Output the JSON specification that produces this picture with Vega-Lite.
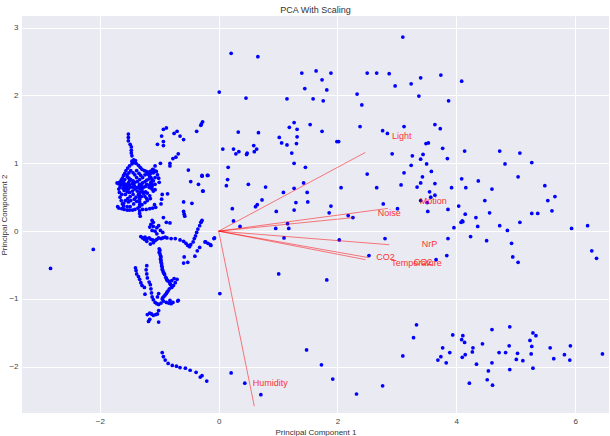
{
  "$schema": "https://vega.github.io/schema/vega-lite/v6.json",
  "width": 587,
  "height": 397,
  "autosize": {"type": "none"},
  "padding": {"left": 22, "top": 16, "right": 1, "bottom": 23},
  "background": "white",
  "title": {"text": "PCA With Scaling", "fontSize": 9, "fontWeight": "normal", "font": "Liberation Sans", "color": "#333333", "offset": 1},
  "config": {
    "view": {"fill": "#EAEAF2", "stroke": null},
    "axis": {
      "grid": true, "gridColor": "#ffffff", "gridWidth": 1, "domain": false, "ticks": false,
      "labelFont": "Liberation Sans", "labelFontSize": 8, "labelColor": "#444444", "labelPadding": 4,
      "titleFont": "Liberation Sans", "titleFontSize": 8, "titleFontWeight": "normal", "titleColor": "#333333"
    }
  },
  "datasets": {
    "scores": [
      {"x": -2.83, "y": -0.55}, {"x": -2.11, "y": -0.27},
      {"x": -1.52, "y": 1.43}, {"x": -1.52, "y": 1.38}, {"x": -1.52, "y": 1.33}, {"x": -1.49, "y": 1.28}, {"x": -1.47, "y": 1.24}, {"x": -1.47, "y": 1.19}, {"x": -1.47, "y": 1.15}, {"x": -1.46, "y": 1.11},
      {"x": -0.93, "y": 1.5}, {"x": -0.88, "y": 1.52}, {"x": -0.96, "y": 1.4}, {"x": -0.93, "y": 1.32}, {"x": -1.03, "y": 1.28}, {"x": -0.93, "y": 1.26},
      {"x": -0.75, "y": 1.44}, {"x": -0.7, "y": 1.47}, {"x": -0.65, "y": 1.4}, {"x": -0.59, "y": 1.35}, {"x": -0.37, "y": 1.47}, {"x": -0.3, "y": 1.56}, {"x": -0.27, "y": 1.61},
      {"x": -0.68, "y": 1.14}, {"x": -0.72, "y": 1.09}, {"x": -0.77, "y": 1.07}, {"x": -0.82, "y": 1.0}, {"x": -0.82, "y": 0.96}, {"x": -0.98, "y": 1.0}, {"x": -1.07, "y": 0.96},
      {"x": -1.11, "y": 0.91}, {"x": -1.05, "y": 0.88}, {"x": -1.03, "y": 0.83}, {"x": -1.01, "y": 0.78}, {"x": -1.0, "y": 0.72}, {"x": -1.07, "y": 0.69}, {"x": -1.12, "y": 0.66},
      {"x": -0.95, "y": 0.54}, {"x": -0.86, "y": 0.55}, {"x": -0.96, "y": 0.47}, {"x": -0.97, "y": 0.4},
      {"x": -0.51, "y": 0.9}, {"x": -0.47, "y": 0.73}, {"x": -0.34, "y": 0.69}, {"x": -0.28, "y": 0.82}, {"x": -0.19, "y": 0.82}, {"x": -0.26, "y": 0.59},
      {"x": -0.59, "y": 0.43}, {"x": -0.45, "y": 0.41}, {"x": -0.59, "y": 0.29}, {"x": -0.58, "y": 0.25}, {"x": -0.57, "y": 0.22},
      {"x": -1.46, "y": 1.03}, {"x": -1.43, "y": 1.05}, {"x": -1.4, "y": 1.04}, {"x": -1.42, "y": 1.01}, {"x": -1.46, "y": 0.99}, {"x": -1.5, "y": 0.96}, {"x": -1.53, "y": 0.93},
      {"x": -1.56, "y": 0.89}, {"x": -1.58, "y": 0.85}, {"x": -1.6, "y": 0.82}, {"x": -1.62, "y": 0.78}, {"x": -1.64, "y": 0.75}, {"x": -1.67, "y": 0.72}, {"x": -1.69, "y": 0.7}, {"x": -1.71, "y": 0.71},
      {"x": -1.39, "y": 1.0}, {"x": -1.35, "y": 0.97}, {"x": -1.32, "y": 0.94}, {"x": -1.29, "y": 0.91}, {"x": -1.25, "y": 0.89}, {"x": -1.22, "y": 0.88}, {"x": -1.19, "y": 0.87},
      {"x": -1.15, "y": 0.88}, {"x": -1.12, "y": 0.89}, {"x": -1.09, "y": 0.9}, {"x": -1.06, "y": 0.88}, {"x": -1.1, "y": 0.86}, {"x": -1.15, "y": 0.85},
      {"x": -1.54, "y": 0.8}, {"x": -1.51, "y": 0.78}, {"x": -1.48, "y": 0.76}, {"x": -1.44, "y": 0.74}, {"x": -1.41, "y": 0.72}, {"x": -1.45, "y": 0.7}, {"x": -1.5, "y": 0.68},
      {"x": -1.54, "y": 0.66}, {"x": -1.58, "y": 0.64}, {"x": -1.61, "y": 0.63}, {"x": -1.59, "y": 0.6}, {"x": -1.54, "y": 0.58}, {"x": -1.5, "y": 0.57}, {"x": -1.45, "y": 0.59},
      {"x": -1.41, "y": 0.62}, {"x": -1.38, "y": 0.64}, {"x": -1.34, "y": 0.66}, {"x": -1.31, "y": 0.69}, {"x": -1.28, "y": 0.71}, {"x": -1.24, "y": 0.73}, {"x": -1.21, "y": 0.75},
      {"x": -1.17, "y": 0.77}, {"x": -1.14, "y": 0.79}, {"x": -1.12, "y": 0.76}, {"x": -1.14, "y": 0.72}, {"x": -1.16, "y": 0.68}, {"x": -1.15, "y": 0.64}, {"x": -1.12, "y": 0.62},
      {"x": -1.1, "y": 0.59}, {"x": -1.07, "y": 0.61}, {"x": -1.26, "y": 0.65}, {"x": -1.29, "y": 0.62}, {"x": -1.32, "y": 0.58}, {"x": -1.35, "y": 0.54}, {"x": -1.39, "y": 0.5},
      {"x": -1.42, "y": 0.47}, {"x": -1.38, "y": 0.44}, {"x": -1.33, "y": 0.47}, {"x": -1.3, "y": 0.51}, {"x": -1.26, "y": 0.55}, {"x": -1.23, "y": 0.58}, {"x": -1.2, "y": 0.56},
      {"x": -1.16, "y": 0.52}, {"x": -1.15, "y": 0.48}, {"x": -1.2, "y": 0.45}, {"x": -1.24, "y": 0.42}, {"x": -1.29, "y": 0.39}, {"x": -1.33, "y": 0.36}, {"x": -1.36, "y": 0.34},
      {"x": -1.41, "y": 0.32}, {"x": -1.45, "y": 0.31}, {"x": -1.5, "y": 0.31}, {"x": -1.54, "y": 0.31}, {"x": -1.59, "y": 0.32}, {"x": -1.63, "y": 0.33}, {"x": -1.68, "y": 0.34},
      {"x": -1.7, "y": 0.36}, {"x": -1.28, "y": 0.32}, {"x": -1.22, "y": 0.32}, {"x": -1.16, "y": 0.33}, {"x": -1.11, "y": 0.34}, {"x": -1.06, "y": 0.35}, {"x": -1.08, "y": 0.39},
      {"x": -1.33, "y": 0.3}, {"x": -1.33, "y": 0.26}, {"x": -1.32, "y": 0.22}, {"x": -1.66, "y": 0.5}, {"x": -1.64, "y": 0.45}, {"x": -1.62, "y": 0.4}, {"x": -1.6, "y": 0.37},
      {"x": -1.57, "y": 0.54}, {"x": -1.62, "y": 0.68}, {"x": -1.66, "y": 0.65}, {"x": -1.68, "y": 0.62}, {"x": -1.67, "y": 0.57}, {"x": -1.63, "y": 0.54},
      {"x": -1.38, "y": 0.89}, {"x": -1.34, "y": 0.85}, {"x": -1.31, "y": 0.82}, {"x": -1.28, "y": 0.79}, {"x": -1.33, "y": 0.76}, {"x": -1.38, "y": 0.79}, {"x": -1.41, "y": 0.83},
      {"x": -1.44, "y": 0.86}, {"x": -1.48, "y": 0.89}, {"x": -1.51, "y": 0.86}, {"x": -1.54, "y": 0.83}, {"x": -1.58, "y": 0.76}, {"x": -1.6, "y": 0.72},
      {"x": -1.37, "y": 0.73}, {"x": -1.33, "y": 0.69}, {"x": -1.3, "y": 0.66}, {"x": -1.33, "y": 0.63}, {"x": -1.37, "y": 0.59}, {"x": -1.33, "y": 0.55}, {"x": -1.33, "y": 0.51},
      {"x": -1.33, "y": 0.43}, {"x": -1.33, "y": 0.39}, {"x": -1.5, "y": 0.74}, {"x": -1.52, "y": 0.71}, {"x": -1.56, "y": 0.69}, {"x": -1.59, "y": 0.67}, {"x": -1.49, "y": 0.65},
      {"x": -1.52, "y": 0.62}, {"x": -1.56, "y": 0.62}, {"x": -1.45, "y": 0.65}, {"x": -1.42, "y": 0.67}, {"x": -1.63, "y": 0.72}, {"x": -1.66, "y": 0.69}, {"x": -1.43, "y": 0.4},
      {"x": -1.49, "y": 0.36}, {"x": -1.54, "y": 0.36}, {"x": -1.6, "y": 0.41}, {"x": -1.57, "y": 0.45}, {"x": -1.53, "y": 0.48}, {"x": -1.49, "y": 0.51}, {"x": -1.44, "y": 0.54},
      {"x": -1.52, "y": 0.43}, {"x": -1.48, "y": 0.45}, {"x": -1.21, "y": 0.69}, {"x": -1.17, "y": 0.645}, {"x": -1.23, "y": 0.66}, {"x": -1.28, "y": 0.58}, {"x": -1.24, "y": 0.51},
      {"x": -1.21, "y": 0.48}, {"x": -1.12, "y": 0.69}, {"x": -1.1, "y": 0.74}, {"x": -1.07, "y": 0.79}, {"x": -1.2, "y": 0.84}, {"x": -1.24, "y": 0.83}, {"x": -1.16, "y": 0.81},
      {"x": -1.12, "y": 0.16}, {"x": -1.1, "y": 0.13}, {"x": -1.14, "y": 0.1}, {"x": -1.16, "y": 0.06}, {"x": -1.1, "y": 0.07}, {"x": -1.04, "y": 0.05}, {"x": -1.01, "y": 0.08},
      {"x": -0.93, "y": 0.2}, {"x": -0.88, "y": 0.13}, {"x": -0.82, "y": 0.12}, {"x": -0.98, "y": 0.01}, {"x": -0.94, "y": -0.02}, {"x": -1.07, "y": 0.0}, {"x": -1.12, "y": 0.01}, {"x": -1.04, "y": -0.04},
      {"x": -1.31, "y": -0.08}, {"x": -1.28, "y": -0.1}, {"x": -1.24, "y": -0.09}, {"x": -1.21, "y": -0.11}, {"x": -1.17, "y": -0.1}, {"x": -1.14, "y": -0.12}, {"x": -1.11, "y": -0.13},
      {"x": -1.07, "y": -0.14}, {"x": -1.04, "y": -0.12}, {"x": -1.01, "y": -0.1}, {"x": -0.97, "y": -0.11}, {"x": -0.94, "y": -0.1}, {"x": -0.9, "y": -0.09}, {"x": -0.87, "y": -0.1},
      {"x": -0.8, "y": -0.11}, {"x": -0.73, "y": -0.11}, {"x": -0.65, "y": -0.13}, {"x": -0.59, "y": -0.15}, {"x": -0.55, "y": -0.18}, {"x": -0.52, "y": -0.21}, {"x": -0.49, "y": -0.23},
      {"x": -0.47, "y": -0.2}, {"x": -0.43, "y": -0.16}, {"x": -0.41, "y": -0.11}, {"x": -0.39, "y": -0.07}, {"x": -0.37, "y": -0.02}, {"x": -0.35, "y": 0.03}, {"x": -0.32, "y": 0.08},
      {"x": -0.3, "y": 0.13}, {"x": -0.28, "y": 0.16}, {"x": -0.22, "y": -0.16}, {"x": -0.18, "y": -0.18}, {"x": -0.13, "y": -0.21}, {"x": -0.07, "y": -0.1},
      {"x": -1.1, "y": -0.17}, {"x": -1.15, "y": -0.19}, {"x": -1.21, "y": -0.15}, {"x": -1.25, "y": -0.12},
      {"x": -1.0, "y": -0.26}, {"x": -1.0, "y": -0.31}, {"x": -0.98, "y": -0.36}, {"x": -0.98, "y": -0.41}, {"x": -0.97, "y": -0.46}, {"x": -0.96, "y": -0.51}, {"x": -0.95, "y": -0.56},
      {"x": -0.93, "y": -0.61}, {"x": -0.91, "y": -0.64}, {"x": -0.89, "y": -0.68}, {"x": -0.87, "y": -0.72}, {"x": -0.84, "y": -0.74}, {"x": -0.82, "y": -0.77}, {"x": -0.79, "y": -0.73},
      {"x": -0.75, "y": -0.7}, {"x": -0.7, "y": -0.71}, {"x": -0.73, "y": -0.76}, {"x": -0.76, "y": -0.8}, {"x": -0.79, "y": -0.83}, {"x": -0.83, "y": -0.85}, {"x": -0.85, "y": -0.88},
      {"x": -0.88, "y": -0.92}, {"x": -0.92, "y": -0.96}, {"x": -0.95, "y": -1.0}, {"x": -0.93, "y": -1.03}, {"x": -0.88, "y": -1.05}, {"x": -0.84, "y": -1.06}, {"x": -0.8, "y": -1.07},
      {"x": -0.77, "y": -1.05}, {"x": -0.82, "y": -1.02}, {"x": -0.69, "y": -1.03},
      {"x": -0.99, "y": -0.28}, {"x": -0.99, "y": -0.33}, {"x": -0.97, "y": -0.38}, {"x": -0.97, "y": -0.43}, {"x": -0.96, "y": -0.48}, {"x": -0.95, "y": -0.53}, {"x": -0.94, "y": -0.58},
      {"x": -0.92, "y": -0.62}, {"x": -0.88, "y": -0.7}, {"x": -0.86, "y": -0.73}, {"x": -0.81, "y": -0.79}, {"x": -0.78, "y": -0.81}, {"x": -0.87, "y": -0.9}, {"x": -0.9, "y": -0.94}, {"x": -0.94, "y": -0.98},
      {"x": -1.4, "y": -0.54}, {"x": -1.39, "y": -0.58}, {"x": -1.38, "y": -0.63}, {"x": -1.35, "y": -0.67}, {"x": -1.33, "y": -0.71}, {"x": -1.31, "y": -0.76}, {"x": -1.29, "y": -0.8},
      {"x": -1.25, "y": -0.83}, {"x": -1.24, "y": -0.93}, {"x": -1.21, "y": -0.51}, {"x": -1.22, "y": -0.57}, {"x": -1.21, "y": -0.63}, {"x": -1.2, "y": -0.69}, {"x": -1.17, "y": -0.75},
      {"x": -1.15, "y": -0.79}, {"x": -1.14, "y": -0.85}, {"x": -1.13, "y": -0.91}, {"x": -1.12, "y": -0.97}, {"x": -1.1, "y": -1.01}, {"x": -1.07, "y": -1.05}, {"x": -1.04, "y": -1.07},
      {"x": -1.01, "y": -1.08}, {"x": -0.97, "y": -1.06},
      {"x": -0.58, "y": -0.38}, {"x": -0.52, "y": -0.46}, {"x": -0.59, "y": -0.47}, {"x": -0.4, "y": -0.37}, {"x": -0.36, "y": -0.29}, {"x": -0.32, "y": -0.24}, {"x": -1.01, "y": -0.92}, {"x": -1.03, "y": -0.97},
      {"x": -1.2, "y": -1.23}, {"x": -1.16, "y": -1.21}, {"x": -1.13, "y": -1.22}, {"x": -1.1, "y": -1.24}, {"x": -1.06, "y": -1.23}, {"x": -1.03, "y": -1.22}, {"x": -1.01, "y": -1.17},
      {"x": -1.16, "y": -1.3}, {"x": -1.18, "y": -1.33}, {"x": -1.01, "y": -1.34}, {"x": 0.02, "y": -0.92}, {"x": -0.68, "y": -1.02},
      {"x": -0.95, "y": -1.79}, {"x": -0.93, "y": -1.85}, {"x": -0.9, "y": -1.9}, {"x": -0.85, "y": -1.95}, {"x": -0.78, "y": -1.98}, {"x": -0.71, "y": -1.99}, {"x": -0.65, "y": -2.01},
      {"x": -0.56, "y": -2.02}, {"x": -0.48, "y": -2.05}, {"x": -0.38, "y": -2.08}, {"x": -0.28, "y": -2.13}, {"x": -0.31, "y": -2.15}, {"x": -0.2, "y": -2.21},
      {"x": 0.21, "y": -2.09}, {"x": 0.44, "y": -2.24}, {"x": 0.71, "y": -2.41}, {"x": 1.48, "y": -1.75}, {"x": 1.73, "y": -1.97}, {"x": 1.92, "y": -2.18}, {"x": 2.32, "y": -2.4}, {"x": 2.76, "y": -2.28},
      {"x": -0.29, "y": 1.58}, {"x": 0.33, "y": 1.46}, {"x": 0.67, "y": 1.45}, {"x": 0.07, "y": 1.21}, {"x": 0.25, "y": 1.21}, {"x": 0.29, "y": 1.14}, {"x": 0.34, "y": 1.17},
      {"x": 0.47, "y": 1.13}, {"x": 0.48, "y": 1.15}, {"x": 0.59, "y": 1.26}, {"x": 0.64, "y": 1.21}, {"x": 0.6, "y": 1.17}, {"x": 1.02, "y": 1.38}, {"x": 1.06, "y": 1.3},
      {"x": 1.15, "y": 1.27}, {"x": 1.19, "y": 1.53}, {"x": 1.27, "y": 1.6}, {"x": 1.32, "y": 1.5}, {"x": 1.32, "y": 1.39}, {"x": 1.31, "y": 1.29}, {"x": 1.54, "y": 1.57},
      {"x": 1.23, "y": 1.15}, {"x": 1.27, "y": 1.0}, {"x": 1.46, "y": 0.94}, {"x": 1.74, "y": 1.47}, {"x": 1.99, "y": 1.32}, {"x": 2.02, "y": 1.32}, {"x": 2.38, "y": 1.54},
      {"x": 2.76, "y": 1.48}, {"x": 2.84, "y": 1.44}, {"x": 3.12, "y": 1.54}, {"x": 3.64, "y": 1.57}, {"x": 3.73, "y": 1.51}, {"x": 3.49, "y": 1.29}, {"x": 3.53, "y": 1.3},
      {"x": 3.77, "y": 1.22}, {"x": 2.92, "y": 1.14}, {"x": 3.26, "y": 1.11}, {"x": 3.44, "y": 1.13}, {"x": 3.4, "y": 1.06}, {"x": 3.85, "y": 1.07}, {"x": 3.24, "y": 0.97},
      {"x": 3.5, "y": 0.99}, {"x": 3.12, "y": 0.86}, {"x": 3.58, "y": 0.88}, {"x": 3.43, "y": 0.8}, {"x": 3.64, "y": 0.7}, {"x": 3.4, "y": 0.71}, {"x": 3.34, "y": 0.65},
      {"x": 3.07, "y": 0.68}, {"x": 3.55, "y": 0.58}, {"x": 3.64, "y": 0.53}, {"x": 3.57, "y": 0.5}, {"x": 3.4, "y": 0.45}, {"x": 3.51, "y": 0.42}, {"x": 3.86, "y": 0.32},
      {"x": 3.52, "y": 0.29}, {"x": 2.66, "y": 0.64}, {"x": 2.5, "y": 0.84}, {"x": 2.06, "y": 0.64}, {"x": 1.43, "y": 0.71}, {"x": 1.27, "y": 0.63}, {"x": 1.49, "y": 0.57},
      {"x": 1.09, "y": 0.57}, {"x": 0.79, "y": 0.65}, {"x": 0.5, "y": 0.69}, {"x": 0.16, "y": 0.94}, {"x": 0.15, "y": 0.76}, {"x": 0.13, "y": 0.67}, {"x": -0.27, "y": 0.59},
      {"x": -0.28, "y": 0.81}, {"x": -0.18, "y": 0.82}, {"x": 0.73, "y": 0.46}, {"x": 0.65, "y": 0.39}, {"x": 0.62, "y": 0.36}, {"x": 0.23, "y": 0.33}, {"x": 0.97, "y": 0.29},
      {"x": 1.27, "y": 0.31}, {"x": 1.3, "y": 0.42}, {"x": 1.5, "y": 0.43}, {"x": 1.89, "y": 0.37}, {"x": 1.86, "y": 0.27}, {"x": 2.18, "y": 0.23}, {"x": 2.26, "y": 0.2},
      {"x": 2.77, "y": 0.4}, {"x": 3.01, "y": 0.33}, {"x": 0.25, "y": 0.15}, {"x": 0.36, "y": 0.07}, {"x": -0.29, "y": 0.14}, {"x": 0.96, "y": 0.04}, {"x": 1.16, "y": 0.11},
      {"x": 1.18, "y": 0.04}, {"x": -0.23, "y": -0.16}, {"x": -0.14, "y": -0.2}, {"x": -0.08, "y": -0.11}, {"x": 1.1, "y": -0.1}, {"x": 2.03, "y": -0.13}, {"x": 2.8, "y": -0.11},
      {"x": 2.53, "y": -0.36}, {"x": 3.66, "y": -0.42}, {"x": 3.84, "y": -0.36}, {"x": 3.86, "y": -0.11}, {"x": 1.01, "y": -0.63}, {"x": 1.82, "y": -0.72},
      {"x": 3.92, "y": 0.64}, {"x": 4.09, "y": 0.77}, {"x": 4.16, "y": 0.64}, {"x": 4.37, "y": 0.74}, {"x": 4.04, "y": 0.37}, {"x": 4.15, "y": 0.25}, {"x": 4.1, "y": 0.15},
      {"x": 4.08, "y": 0.13}, {"x": 4.11, "y": 0.14}, {"x": 4.33, "y": 0.2}, {"x": 3.96, "y": 0.05},
      {"x": 3.33, "y": -1.38}, {"x": 3.28, "y": -1.57}, {"x": 3.1, "y": -1.84}, {"x": 3.94, "y": -1.53}, {"x": 4.11, "y": -1.54}, {"x": 4.09, "y": -1.6}, {"x": 4.14, "y": -1.64},
      {"x": 3.77, "y": -1.72}, {"x": 3.89, "y": -1.79}, {"x": 3.74, "y": -1.85}, {"x": 3.69, "y": -1.9}, {"x": 3.83, "y": -1.94}, {"x": 4.15, "y": -1.82}, {"x": 4.1, "y": -1.86},
      {"x": 4.28, "y": -1.72}, {"x": 4.27, "y": -1.78}, {"x": 4.44, "y": -1.66}, {"x": 4.34, "y": -1.96}, {"x": 4.6, "y": -1.45}, {"x": 4.9, "y": -1.41}, {"x": 4.89, "y": -1.69},
      {"x": 4.72, "y": -1.79}, {"x": 4.83, "y": -1.79}, {"x": 5.03, "y": -1.8}, {"x": 5.01, "y": -1.89}, {"x": 5.12, "y": -1.91}, {"x": 4.6, "y": -1.94}, {"x": 4.54, "y": -2.06},
      {"x": 4.52, "y": -2.19}, {"x": 4.61, "y": -2.27}, {"x": 4.22, "y": -2.24}, {"x": 4.9, "y": -2.04}, {"x": 5.29, "y": -1.5}, {"x": 5.34, "y": -1.54}, {"x": 5.24, "y": -1.61},
      {"x": 5.27, "y": -1.7}, {"x": 5.26, "y": -1.81}, {"x": 5.29, "y": -2.02}, {"x": 5.58, "y": -1.72}, {"x": 5.64, "y": -1.88}, {"x": 5.82, "y": -1.82}, {"x": 5.92, "y": -1.69},
      {"x": 5.91, "y": -1.9}, {"x": 6.46, "y": -1.81},
      {"x": 0.21, "y": 2.62}, {"x": 0.66, "y": 2.57}, {"x": 0.01, "y": 2.05}, {"x": 0.46, "y": 1.96}, {"x": 1.4, "y": 2.33}, {"x": 1.64, "y": 2.36}, {"x": 1.89, "y": 2.33},
      {"x": 1.74, "y": 2.23}, {"x": 1.45, "y": 2.1}, {"x": 1.82, "y": 2.08}, {"x": 1.59, "y": 1.95}, {"x": 1.76, "y": 1.92}, {"x": 1.15, "y": 1.95}, {"x": 2.5, "y": 2.33},
      {"x": 2.66, "y": 2.33}, {"x": 2.87, "y": 2.32}, {"x": 2.97, "y": 2.14}, {"x": 3.24, "y": 2.17}, {"x": 3.4, "y": 2.26}, {"x": 3.1, "y": 2.86}, {"x": 3.37, "y": 1.99},
      {"x": 3.74, "y": 2.3}, {"x": 3.87, "y": 1.92}, {"x": 2.33, "y": 2.02}, {"x": 2.41, "y": 1.86},
      {"x": 4.09, "y": 2.21}, {"x": 4.14, "y": 1.18}, {"x": 4.73, "y": 1.18}, {"x": 5.07, "y": 1.15}, {"x": 4.82, "y": 0.99}, {"x": 5.04, "y": 0.8}, {"x": 5.27, "y": 1.01},
      {"x": 5.49, "y": 0.67}, {"x": 5.54, "y": 0.45}, {"x": 5.37, "y": 0.26}, {"x": 5.66, "y": 0.51}, {"x": 5.61, "y": 0.3}, {"x": 5.94, "y": 0.04}, {"x": 6.21, "y": 0.08},
      {"x": 6.28, "y": -0.29}, {"x": 6.36, "y": -0.4}, {"x": 4.48, "y": 0.45}, {"x": 4.6, "y": 0.62}, {"x": 4.56, "y": 0.27}, {"x": 4.73, "y": 0.08}, {"x": 4.86, "y": 0.01},
      {"x": 4.93, "y": -0.18}, {"x": 4.95, "y": -0.38}, {"x": 5.04, "y": -0.46}, {"x": 5.07, "y": 0.13}, {"x": 5.27, "y": 0.26}, {"x": 4.51, "y": -0.14}, {"x": 4.36, "y": 0.07}, {"x": 4.24, "y": -0.08}
    ],
    "loadings": [
      {"feature": "Light", "x0": 0, "y0": 0, "x": 2.47, "y": 1.16},
      {"feature": "Motion", "x0": 0, "y0": 0, "x": 2.85, "y": 0.335},
      {"feature": "Noise", "x0": 0, "y0": 0, "x": 2.27, "y": 0.2},
      {"feature": "NrP", "x0": 0, "y0": 0, "x": 2.87, "y": -0.2},
      {"feature": "CO2", "x0": 0, "y0": 0, "x": 2.52, "y": -0.39},
      {"feature": "Temperature", "x0": 0, "y0": 0, "x": 2.47, "y": -0.42},
      {"feature": "Humidity", "x0": 0, "y0": 0, "x": 0.6, "y": -2.58}
    ],
    "labels": [
      {"text": "Light", "x": 3.08, "y": 1.4},
      {"text": "Motion", "x": 3.61, "y": 0.44},
      {"text": "Noise", "x": 2.87, "y": 0.26},
      {"text": "NrP", "x": 3.55, "y": -0.19},
      {"text": "CO2", "x": 2.81, "y": -0.375},
      {"text": "Temperature", "x": 3.33, "y": -0.47},
      {"text": "CO2", "x": 3.44, "y": -0.45},
      {"text": "Humidity", "x": 0.87, "y": -2.24}
    ]
  },
  "layer": [
    {
      "data": {"name": "scores"},
      "mark": {"type": "point", "filled": true, "shape": "circle", "size": 14, "color": "#0000ff", "opacity": 1},
      "encoding": {
        "x": {"field": "x", "type": "quantitative", "title": "Principal Component 1",
              "scale": {"domain": [-3.31, 6.57], "nice": false, "zero": false},
              "axis": {"values": [-2, 0, 2, 4, 6], "format": "d", "titlePadding": 3}},
        "y": {"field": "y", "type": "quantitative", "title": "Principal Component 2",
              "scale": {"domain": [-2.68, 3.17], "nice": false, "zero": false},
              "axis": {"values": [-2, -1, 0, 1, 2, 3], "format": "d", "labelPadding": 4, "titlePadding": 0}}
      }
    },
    {
      "data": {"name": "loadings"},
      "mark": {"type": "rule", "color": "#ff0000", "opacity": 0.5, "strokeWidth": 1},
      "encoding": {
        "x": {"field": "x0", "type": "quantitative"},
        "y": {"field": "y0", "type": "quantitative"},
        "x2": {"field": "x"},
        "y2": {"field": "y"}
      }
    },
    {
      "data": {"name": "labels"},
      "mark": {"type": "text", "color": "#ff0000", "opacity": 0.8, "fontSize": 9, "font": "Liberation Sans", "align": "center", "baseline": "middle"},
      "encoding": {
        "x": {"field": "x", "type": "quantitative"},
        "y": {"field": "y", "type": "quantitative"},
        "text": {"field": "text"}
      }
    }
  ]
}
